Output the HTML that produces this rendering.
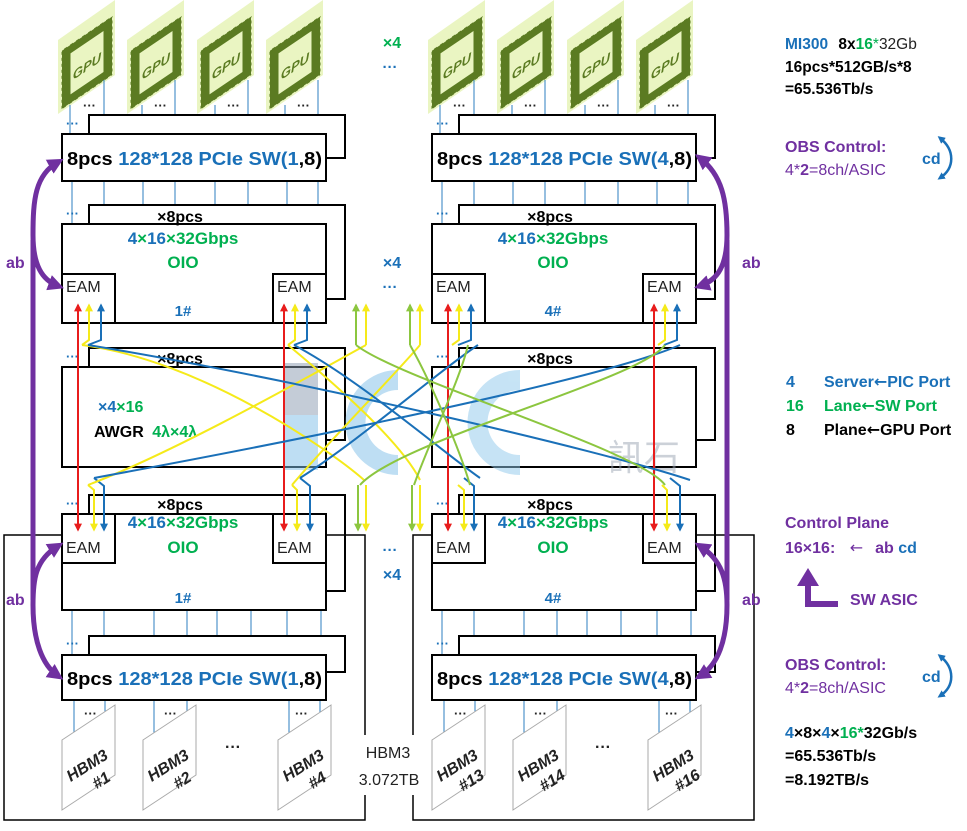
<!DOCTYPE html>
<html><head><meta charset="utf-8"><style>
body{margin:0;background:#fff}
svg{display:block;font-family:"Liberation Sans","Noto Sans CJK SC",sans-serif}
.b{font-weight:bold}
</style></head><body>
<svg width="967" height="831" viewBox="0 0 967 831" xmlns="http://www.w3.org/2000/svg">
<defs>
<marker id="ar" viewBox="0 0 10 10" refX="8" refY="5" markerWidth="4" markerHeight="4" orient="auto-start-reverse"><path d="M0,0L10,5L0,10z" fill="#e81c1c"/></marker>
<marker id="ay" viewBox="0 0 10 10" refX="8" refY="5" markerWidth="4" markerHeight="4" orient="auto-start-reverse"><path d="M0,0L10,5L0,10z" fill="#f5ea1a"/></marker>
<marker id="ab" viewBox="0 0 10 10" refX="8" refY="5" markerWidth="4" markerHeight="4" orient="auto-start-reverse"><path d="M0,0L10,5L0,10z" fill="#1a70b8"/></marker>
<marker id="ag" viewBox="0 0 10 10" refX="8" refY="5" markerWidth="4" markerHeight="4" orient="auto-start-reverse"><path d="M0,0L10,5L0,10z" fill="#8cc63f"/></marker>
<marker id="ap" viewBox="0 0 10 10" refX="6" refY="5" markerWidth="3.2" markerHeight="3.2" orient="auto-start-reverse"><path d="M0,0L10,5L0,10z" fill="#7030a0"/></marker>
<marker id="ac" viewBox="0 0 10 10" refX="6" refY="5" markerWidth="3" markerHeight="3" orient="auto-start-reverse"><path d="M0,0L10,5L0,10z" fill="#1a70b8"/></marker>
<g id="gpu">
 <polygon points="0,40 57,0 57,75 0,114" fill="#eaf5c2"/>
 <g transform="matrix(1,-0.68,0,1,5,50)">
  <rect x="3" y="4" width="42" height="50" fill="none" stroke="#5b7b22" stroke-width="9"/>
  <rect x="-2" y="-1" width="52" height="60" fill="none" stroke="#eaf5c2" stroke-width="2" stroke-dasharray="3 3"/>
  <text x="24" y="37" font-size="13" font-weight="bold" fill="#5b7b22" text-anchor="middle" font-style="italic">GPU</text>
 </g>
</g>
<g id="hbm">
 <polygon points="0,35 53,0 53,70 0,105" fill="#fff" stroke="#aaa" stroke-width="1"/>
</g>
</defs>

<g id="blk">
 <use href="#gpu" x="58" y="0"/><use href="#gpu" x="127" y="0"/><use href="#gpu" x="197" y="0"/><use href="#gpu" x="266" y="0"/>
 <g stroke="#2e7fc0" stroke-width="1">
  <path d="M70,105V134M104,80V116M142,105V134M175,80V116M215,105V134M248,80V116M285,105V134M318,80V116"/>
  <path d="M72,181V224M104,181V205M143,181V224M175,181V205M215,181V224M248,181V205M287,181V224M318,181V205"/>
  <path d="M72,610V655M104,610V636M154,610V655M187,610V636M217,610V655M251,610V636M287,610V655M321,610V636"/>
  <path d="M74,700V740M105,700V714M154,700V735M187,700V714M289,700V735M320,700V714"/>
 </g>
 <g font-size="13" class="b" fill="#222">
  <text x="83" y="110">···</text><text x="154" y="110">···</text><text x="227" y="110">···</text><text x="297" y="110">···</text>
  <text x="84" y="718">···</text><text x="164" y="718">···</text><text x="295" y="718">···</text>
 </g>
 <text x="225" y="752" font-size="16" class="b" fill="#222">···</text>
 <g fill="#1a70b8" font-size="13" class="b">
  <text x="66" y="128">···</text><text x="66" y="218">···</text><text x="66" y="361">···</text><text x="66" y="508">···</text><text x="66" y="648">···</text>
 </g>
 <rect x="89" y="115" width="256" height="43" fill="#fff" stroke="#000" stroke-width="2"/>
 <rect x="62" y="134" width="264" height="47" fill="#fff" stroke="#000" stroke-width="2"/>
 <text x="67" y="165" font-size="18" class="b" textLength="255" lengthAdjust="spacingAndGlyphs"><tspan>8pcs </tspan><tspan fill="#1a70b8">128*128 PCIe SW(1</tspan><tspan>,8)</tspan></text>
 <rect x="89" y="205" width="256" height="94" fill="#fff" stroke="#000" stroke-width="2"/>
 <rect x="62" y="224" width="264" height="99" fill="#fff" stroke="#000" stroke-width="2"/>
 <text x="180" y="222" font-size="16" class="b" text-anchor="middle">×8pcs</text>
 <text x="183" y="244" font-size="17" class="b" text-anchor="middle"><tspan fill="#1a70b8">4</tspan><tspan fill="#00b050">×</tspan><tspan fill="#1a70b8">16</tspan><tspan fill="#00b050">×32Gbps</tspan></text>
 <text x="183" y="268" font-size="17" class="b" fill="#00b050" text-anchor="middle">OIO</text>
 <rect x="62" y="274" width="53" height="49" fill="#fff" stroke="#000" stroke-width="2"/>
 <rect x="273" y="274" width="53" height="49" fill="#fff" stroke="#000" stroke-width="2"/>
 <text x="66" y="292" font-size="16" fill="#222">EAM</text><text x="277" y="292" font-size="16" fill="#222">EAM</text>
 <text x="183" y="316" font-size="15" class="b" fill="#1a70b8" text-anchor="middle">1#</text>
 <rect x="89" y="348" width="256" height="92" fill="#fff" stroke="#000" stroke-width="2"/>
 <rect x="62" y="367" width="264" height="100" fill="#fff" stroke="#000" stroke-width="2"/>
 <text x="180" y="364" font-size="16" class="b" text-anchor="middle">×8pcs</text>
 <rect x="89" y="495" width="256" height="96" fill="#fff" stroke="#000" stroke-width="2"/>
 <rect x="62" y="514" width="264" height="96" fill="#fff" stroke="#000" stroke-width="2"/>
 <text x="180" y="510" font-size="16" class="b" text-anchor="middle">×8pcs</text>
 <text x="183" y="528" font-size="17" class="b" text-anchor="middle"><tspan fill="#1a70b8">4</tspan><tspan fill="#00b050">×</tspan><tspan fill="#1a70b8">16</tspan><tspan fill="#00b050">×32Gbps</tspan></text>
 <text x="183" y="553" font-size="17" class="b" fill="#00b050" text-anchor="middle">OIO</text>
 <rect x="62" y="514" width="53" height="49" fill="#fff" stroke="#000" stroke-width="2"/>
 <rect x="273" y="514" width="53" height="49" fill="#fff" stroke="#000" stroke-width="2"/>
 <text x="66" y="553" font-size="16" fill="#222">EAM</text><text x="277" y="553" font-size="16" fill="#222">EAM</text>
 <text x="183" y="603" font-size="15" class="b" fill="#1a70b8" text-anchor="middle">1#</text>
 <rect x="89" y="636" width="256" height="36" fill="#fff" stroke="#000" stroke-width="2"/>
 <rect x="62" y="655" width="264" height="45" fill="#fff" stroke="#000" stroke-width="2"/>
 <text x="67" y="685" font-size="18" class="b" textLength="255" lengthAdjust="spacingAndGlyphs"><tspan>8pcs </tspan><tspan fill="#1a70b8">128*128 PCIe SW(1</tspan><tspan>,8)</tspan></text>
 <use href="#hbm" x="62" y="705"/><use href="#hbm" x="143" y="705"/><use href="#hbm" x="278" y="705"/>
</g>
<use href="#blk" x="370" y="0"/>
<rect x="535" y="302" width="40" height="18" fill="#fff"/>
<text x="553" y="316" font-size="15" class="b" fill="#1a70b8" text-anchor="middle">4#</text>
<rect x="535" y="589" width="40" height="18" fill="#fff"/>
<text x="553" y="603" font-size="15" class="b" fill="#1a70b8" text-anchor="middle">4#</text>
<rect x="434" y="144" width="260" height="32" fill="#fff"/>
<text x="437" y="165" font-size="18" class="b" textLength="255" lengthAdjust="spacingAndGlyphs"><tspan>8pcs </tspan><tspan fill="#1a70b8">128*128 PCIe SW(4</tspan><tspan>,8)</tspan></text>
<rect x="434" y="664" width="260" height="32" fill="#fff"/>
<text x="437" y="685" font-size="18" class="b" textLength="255" lengthAdjust="spacingAndGlyphs"><tspan>8pcs </tspan><tspan fill="#1a70b8">128*128 PCIe SW(4</tspan><tspan>,8)</tspan></text>

<!-- watermark -->
<g opacity="0.5">
<rect x="285" y="363" width="33" height="107" fill="#7fbfe8"/>
<rect x="285" y="363" width="33" height="52" fill="#8a9bb0"/>
<path d="M398,370 A52,52 0 1,0 398,475 L398,455 A32,32 0 1,1 398,390z" fill="#7fbfe8"/>
<path d="M520,370 A52,52 0 1,0 520,475 L520,455 A32,32 0 1,1 520,390z" fill="#8fc9ec"/>
<text x="608" y="470" font-size="36" fill="#9aa4b2">訊石</text>
</g>

<text x="98" y="412" font-size="16" class="b"><tspan fill="#1a70b8">×4</tspan><tspan fill="#00b050">×16</tspan></text>
<text x="94" y="437" font-size="16" class="b">AWGR <tspan fill="#00b050" dx="4">4λ×4λ</tspan></text>

<g id="lk" fill="none" stroke-width="2">
  <path d="M78,305V530" stroke="#e81c1c" marker-start="url(#ar)" marker-end="url(#ar)"/>
  <path d="M284,305V530" stroke="#e81c1c" marker-start="url(#ar)" marker-end="url(#ar)"/>
  <path d="M89,305V340L82,345" stroke="#f5ea1a" marker-start="url(#ay)"/>
  <path d="M101,305V340L88,345" stroke="#1a70b8" marker-start="url(#ab)"/>
  <path d="M295,305V340L288,345" stroke="#f5ea1a" marker-start="url(#ay)"/>
  <path d="M307,305V340L294,345" stroke="#1a70b8" marker-start="url(#ab)"/>
  <path d="M88,485L94,490V530" stroke="#f5ea1a" marker-end="url(#ay)"/>
  <path d="M94,478L104,486V530" stroke="#1a70b8" marker-end="url(#ab)"/>
  <path d="M292,485L297,490V530" stroke="#f5ea1a" marker-end="url(#ay)"/>
  <path d="M300,478L310,486V530" stroke="#1a70b8" marker-end="url(#ab)"/>
</g>
<use href="#lk" x="370" y="0"/>

<g fill="none" stroke-width="2">
 <path d="M82,345C200,360 330,450 364,480" stroke="#f5ea1a"/>
 <path d="M88,485C180,450 320,370 366,345" stroke="#f5ea1a"/>
 <path d="M288,345C330,380 400,440 420,480" stroke="#f5ea1a"/>
 <path d="M292,485C330,440 390,380 420,345" stroke="#f5ea1a"/>
 <path d="M88,345C300,380 600,450 690,480" stroke="#1a70b8"/>
 <path d="M94,478C300,440 600,380 680,345" stroke="#1a70b8"/>
 <path d="M294,345C360,380 440,450 480,478" stroke="#1a70b8"/>
 <path d="M300,478C360,440 440,370 478,345" stroke="#1a70b8"/>
 <path d="M356,345C400,380 640,450 665,485" stroke="#8cc63f"/>
 <path d="M360,485C400,440 640,380 665,345" stroke="#8cc63f"/>
 <path d="M410,345C430,380 460,450 470,485" stroke="#8cc63f"/>
 <path d="M414,485C430,440 460,380 468,345" stroke="#8cc63f"/>
 <path d="M356,345V305" stroke="#8cc63f" marker-end="url(#ag)"/>
 <path d="M366,345V305" stroke="#f5ea1a" marker-end="url(#ay)"/>
 <path d="M410,345V305" stroke="#8cc63f" marker-end="url(#ag)"/>
 <path d="M420,345V305" stroke="#f5ea1a" marker-end="url(#ay)"/>
 <path d="M358,485V530" stroke="#8cc63f" marker-end="url(#ag)"/>
 <path d="M366,485V530" stroke="#f5ea1a" marker-end="url(#ay)"/>
 <path d="M412,485V530" stroke="#8cc63f" marker-end="url(#ag)"/>
 <path d="M420,485V530" stroke="#f5ea1a" marker-end="url(#ay)"/>
</g>

<g font-size="16" class="b" font-style="italic" fill="#222" text-anchor="middle">
 <text transform="translate(90,770) rotate(-32)"><tspan x="0" y="0">HBM3</tspan><tspan x="4" y="20">#1</tspan></text>
 <text transform="translate(171,770) rotate(-32)"><tspan x="0" y="0">HBM3</tspan><tspan x="4" y="20">#2</tspan></text>
 <text transform="translate(306,770) rotate(-32)"><tspan x="0" y="0">HBM3</tspan><tspan x="4" y="20">#4</tspan></text>
 <text transform="translate(460,770) rotate(-32)"><tspan x="0" y="0">HBM3</tspan><tspan x="4" y="20">#13</tspan></text>
 <text transform="translate(541,770) rotate(-32)"><tspan x="0" y="0">HBM3</tspan><tspan x="4" y="20">#14</tspan></text>
 <text transform="translate(676,770) rotate(-32)"><tspan x="0" y="0">HBM3</tspan><tspan x="4" y="20">#16</tspan></text>
</g>

<g fill="none" stroke="#000" stroke-width="1.5">
 <path d="M62,535H4V820H365V795M365,735V535H326"/>
 <path d="M432,535H413V735M413,795V820H754V535H696"/>
</g>
<text x="388" y="758" font-size="16" fill="#222" text-anchor="middle">HBM3</text>
<text x="389" y="785" font-size="16" fill="#222" text-anchor="middle">3.072TB</text>

<text x="392" y="48" font-size="16" class="b" fill="#00b050" text-anchor="middle">×4</text>
<text x="390" y="72" font-size="15" class="b" fill="#1a70b8" text-anchor="middle">···</text>
<text x="392" y="268" font-size="16" class="b" fill="#1a70b8" text-anchor="middle">×4</text>
<text x="390" y="292" font-size="15" class="b" fill="#1a70b8" text-anchor="middle">···</text>
<text x="390" y="555" font-size="15" class="b" fill="#1a70b8" text-anchor="middle">···</text>
<text x="392" y="580" font-size="16" class="b" fill="#1a70b8" text-anchor="middle">×4</text>

<g fill="none" stroke="#7030a0" stroke-width="5">
 <path d="M33,240V600"/>
 <path d="M58,162C35,175 33,200 33,235C33,265 42,280 58,286" marker-start="url(#ap)" marker-end="url(#ap)"/>
 <path d="M58,546C35,560 33,580 33,605C33,640 42,665 58,676" marker-start="url(#ap)" marker-end="url(#ap)"/>
 <path d="M727,240V600"/>
 <path d="M700,158C722,175 727,200 727,235C727,265 718,280 700,286" marker-start="url(#ap)" marker-end="url(#ap)"/>
 <path d="M700,546C722,560 727,580 727,605C727,640 718,665 700,676" marker-start="url(#ap)" marker-end="url(#ap)"/>
</g>
<g font-size="16" class="b" fill="#7030a0">
 <text x="6" y="268">ab</text><text x="6" y="605">ab</text>
 <text x="742" y="268">ab</text><text x="742" y="605">ab</text>
</g>

<text x="785" y="49" font-size="15.5" class="b" fill="#1a70b8">MI300 <tspan fill="#000" dx="6">8x</tspan><tspan fill="#00b050">16</tspan><tspan fill="#00b050" font-weight="normal">*</tspan><tspan fill="#222" font-weight="normal">32Gb</tspan></text>
<text x="785" y="72" font-size="15.5" class="b">16pcs*512GB/s*8</text>
<text x="785" y="94" font-size="15.5" class="b">=65.536Tb/s</text>
<text x="785" y="152" font-size="16" class="b" fill="#7030a0">OBS Control:</text>
<text x="785" y="175" font-size="16" fill="#7030a0">4*<tspan font-weight="bold">2</tspan>=8ch/ASIC</text>
<text x="922" y="164" font-size="16" class="b" fill="#1a70b8">cd</text>
<path d="M940,138C955,150 955,168 940,178" fill="none" stroke="#1a70b8" stroke-width="2.5" marker-start="url(#ac)" marker-end="url(#ac)"/>

<g font-size="16" class="b">
 <text x="786" y="387" fill="#1a70b8">4</text><text x="824" y="387" fill="#1a70b8">Server<tspan font-family="DejaVu Sans">←</tspan>PIC Port</text>
 <text x="786" y="411" fill="#00b050">16</text><text x="824" y="411" fill="#00b050">Lane<tspan font-family="DejaVu Sans">←</tspan>SW Port</text>
 <text x="786" y="435">8</text><text x="824" y="435">Plane<tspan font-family="DejaVu Sans">←</tspan>GPU Port</text>
</g>
<text x="785" y="528" font-size="16" class="b" fill="#7030a0">Control Plane</text>
<text x="785" y="553" font-size="16" class="b" fill="#7030a0">16×16: <tspan font-weight="normal" dx="10" font-family="DejaVu Sans">←</tspan><tspan dx="12">ab </tspan><tspan fill="#1a70b8">cd</tspan></text>
<path d="M808,604V584" stroke="#7030a0" stroke-width="6" fill="none"/>
<polygon points="797,586 808,568 819,586" fill="#7030a0"/>
<path d="M805,604H838" stroke="#7030a0" stroke-width="6"/>
<text x="850" y="605" font-size="16" class="b" fill="#7030a0">SW ASIC</text>

<text x="785" y="670" font-size="16" class="b" fill="#7030a0">OBS Control:</text>
<text x="785" y="693" font-size="16" fill="#7030a0">4*<tspan font-weight="bold">2</tspan>=8ch/ASIC</text>
<text x="922" y="682" font-size="16" class="b" fill="#1a70b8">cd</text>
<path d="M940,656C955,668 955,686 940,696" fill="none" stroke="#1a70b8" stroke-width="2.5" marker-start="url(#ac)" marker-end="url(#ac)"/>
<text x="785" y="738" font-size="16" class="b"><tspan fill="#1a70b8">4</tspan>×8×<tspan fill="#1a70b8">4</tspan>×<tspan fill="#00b050">16*</tspan>32Gb/s</text>
<text x="785" y="761" font-size="16" class="b">=65.536Tb/s</text>
<text x="785" y="785" font-size="16" class="b">=8.192TB/s</text>
</svg>
</body></html>
